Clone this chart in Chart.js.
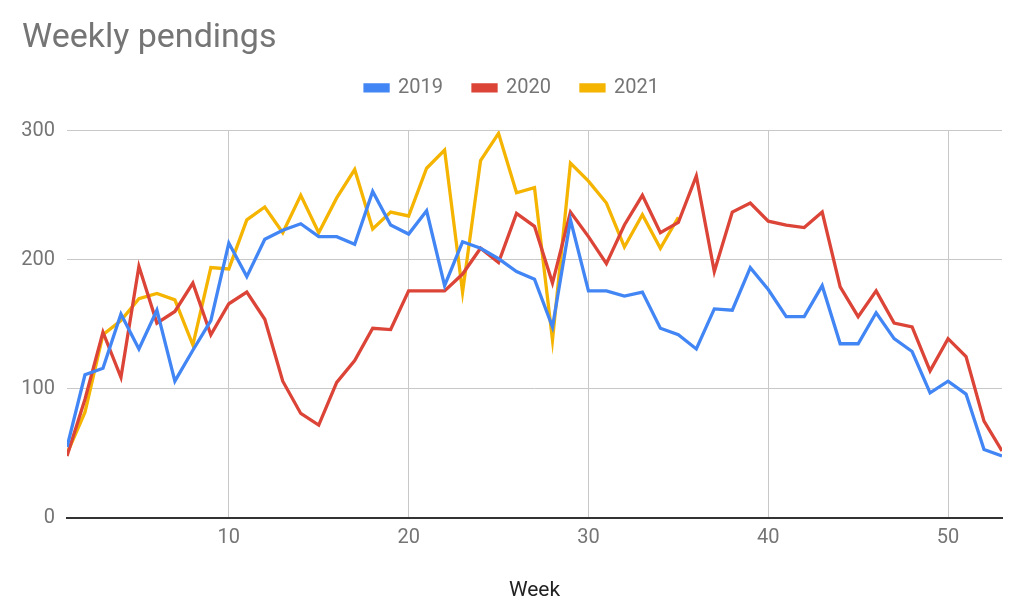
<!DOCTYPE html>
<html>
<head>
<meta charset="utf-8">
<script src="https://cdn.jsdelivr.net/npm/chart.js@4/dist/chart.umd.min.js"></script>
<style>
  body { margin: 0; background: #fff; }
  #wrap { width: 1024px; height: 615px; }
</style>
</head>
<body>
<div id="wrap"><canvas id="chart"></canvas></div>
<script>
const weeks = [1, 2, 3, 4, 5, 6, 7, 8, 9, 10, 11, 12, 13, 14, 15, 16, 17, 18, 19, 20,
  21, 22, 23, 24, 25, 26, 27, 28, 29, 30, 31, 32, 33, 34, 35, 36, 37, 38, 39, 40,
  41, 42, 43, 44, 45, 46, 47, 48, 49, 50, 51, 52, 53];

const pend2019 = [55, 111, 116, 158, 131, 161, 106, 130, 153, 213, 187, 216, 223, 228, 218, 218, 212, 253, 227, 220,
  238, 180, 214, 209, 201, 191, 185, 148, 231, 176, 176, 172, 175, 147, 142, 131, 162, 161, 194, 177,
  156, 156, 180, 135, 135, 159, 139, 129, 97, 106, 96, 53, 48];

const pend2020 = [48, 92, 144, 109, 195, 151, 160, 182, 142, 166, 175, 154, 106, 81, 72, 105, 122, 147, 146, 176,
  176, 176, 189, 209, 198, 236, 226, 182, 237, 218, 197, 227, 250, 221, 229, 265, 191, 237, 244, 230,
  227, 225, 237, 179, 156, 176, 151, 148, 114, 139, 125, 75, 52];

// 2021 only runs to week 35
const pend2021 = [50, 82, 142, 153, 170, 174, 169, 134, 194, 193, 231, 241, 221, 250, 221, 248, 270, 224, 237, 234,
  271, 285, 175, 277, 298, 252, 256, 138, 275, 261, 244, 210, 235, 209, 233];

const xTicks = [10, 20, 30, 40, 50];
const yTicks = [0, 100, 200, 300];

function toPoints(values) {
  return values.map((v, i) => ({ x: weeks[i], y: v }));
}

// extra room between legend and plot
const legendSpace = {
  id: "legendSpace",
  beforeInit(chart) {
    const origFit = chart.legend.fit;
    chart.legend.fit = function () {
      origFit.bind(chart.legend)();
      this.height += 23;
    };
  },
};

const grey = "#757575";

new Chart(document.getElementById("chart"), {
  type: "line",
  data: {
    datasets: [
      { label: "2019", data: toPoints(pend2019), borderColor: "#4285F4", backgroundColor: "#4285F4" },
      { label: "2020", data: toPoints(pend2020), borderColor: "#DB4437", backgroundColor: "#DB4437" },
      { label: "2021", data: toPoints(pend2021), borderColor: "#F4B400", backgroundColor: "#F4B400" },
    ],
  },
  options: {
    responsive: true,
    maintainAspectRatio: false,
    animation: false,
    layout: { padding: { left: 22, right: 22, top: 0, bottom: 0 } },
    elements: {
      line: { borderWidth: 3.3, tension: 0 },
      point: { radius: 0 },
    },
    plugins: {
      title: {
        display: true,
        text: "Weekly pendings",
        align: "start",
        color: grey,
        font: { family: "Roboto", size: 34, weight: "normal", lineHeight: 1.2 },
        padding: { top: 18, bottom: -11 },
      },
      legend: {
        position: "top",
        labels: {
          color: grey,
          font: { family: "Roboto", size: 20 },
          boxWidth: 23,
          boxHeight: 6,
          padding: 30,
        },
      },
      tooltip: { enabled: false },
    },
    scales: {
      x: {
        type: "linear",
        min: 1,
        max: 53,
        afterBuildTicks(scale) {
          scale.ticks = xTicks.map((v) => ({ value: v }));
        },
        afterFit(scale) {
          scale.height = 97;
        },
        ticks: {
          color: grey,
          font: { family: "Roboto", size: 20 },
          padding: 8,
          maxRotation: 0,
        },
        grid: { color: "#c8c8c8", drawTicks: false },
        border: { display: true, color: "#333333", width: 2 },
        title: {
          display: true,
          text: "Week",
          color: "#222222",
          font: { family: "Roboto", size: 21 },
          padding: { top: 0, bottom: 12 },
        },
      },
      y: {
        min: 0,
        max: 300,
        afterBuildTicks(scale) {
          scale.ticks = yTicks.map((v) => ({ value: v }));
        },
        afterFit(scale) {
          scale.width = 45;
        },
        ticks: {
          color: grey,
          font: { family: "Roboto", size: 20 },
          padding: 12,
        },
        grid: {
          color: (ctx) => (ctx.tick && ctx.tick.value === 0 ? "rgba(0,0,0,0)" : "#c8c8c8"),
          drawTicks: false,
        },
        border: { display: false },
      },
    },
  },
  plugins: [legendSpace],
});
</script>
</body>
</html>
